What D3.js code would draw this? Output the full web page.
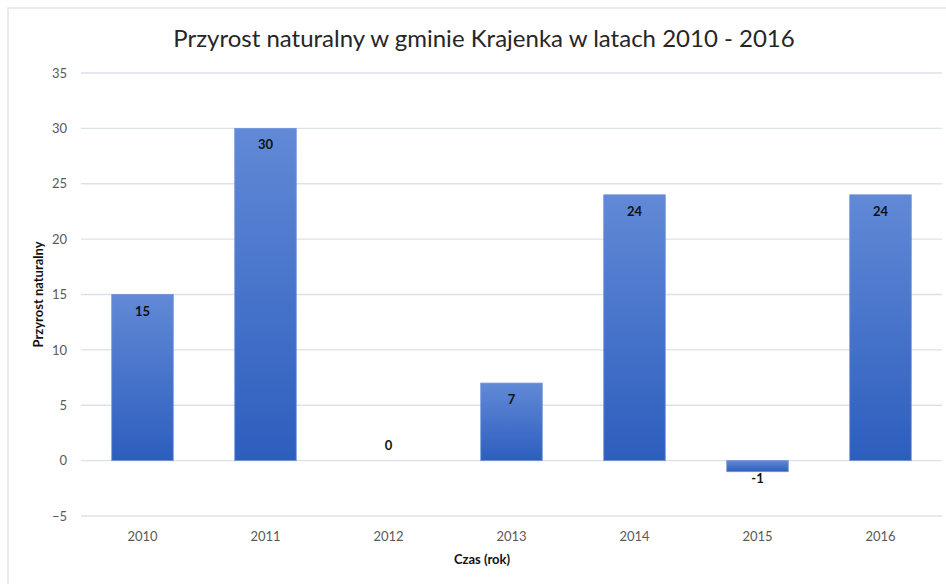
<!DOCTYPE html>
<html>
<head>
<meta charset="utf-8">
<script src="https://cdn.jsdelivr.net/npm/d3@7"></script>
<style>
  body { margin: 0; background: #fff; }
  svg text { font-family: Lato, "Open Sans", sans-serif; }
</style>
</head>
<body>
<div id="chart"></div>
<script>
const years = ['2010', '2011', '2012', '2013', '2014', '2015', '2016']
const values = [15, 30, 0, 7, 24, -1, 24]
const yTicks = [-5, 0, 5, 10, 15, 20, 25, 30, 35]

const width = 946
const height = 584
const margin = {top: 73, right: 4, bottom: 68, left: 81}

const svg = d3.select('#chart').append('svg')
  .attr('width', width)
  .attr('height', height)

const defs = svg.append('defs')
const grad = defs.append('linearGradient')
  .attr('id', 'barGrad')
  .attr('x1', 0).attr('y1', 0).attr('x2', 0).attr('y2', 1)
grad.append('stop').attr('offset', '0%').attr('stop-color', '#6189d6')
grad.append('stop').attr('offset', '100%').attr('stop-color', '#2d5ebe')

// outer border of the chart area
svg.append('path')
  .attr('d', `M8,${height} L8,8 L${width},8`)
  .attr('fill', 'none')
  .attr('stroke', '#e4e4e4')
  .attr('stroke-width', 1.5)

const x = d3.scaleBand()
  .domain(years)
  .range([margin.left, width - margin.right])
  .paddingInner(0.5)
  .paddingOuter(0.25)

const y = d3.scaleLinear()
  .domain([-5, 35])
  .range([height - margin.bottom, margin.top])

// gridlines
svg.append('g')
  .selectAll('line').data(yTicks)
  .enter().append('line')
    .attr('x1', margin.left)
    .attr('x2', width - margin.right)
    .attr('y1', (d) => y(d))
    .attr('y2', (d) => y(d))
    .attr('stroke', '#dbe1ea')
    .attr('stroke-width', 1.3)

// y tick labels
svg.append('g')
  .call(d3.axisLeft(y).tickValues(yTicks).tickSize(0).tickPadding(0))
  .attr('transform', `translate(${margin.left - 14},0)`)
  .call((g) => g.select('.domain').remove())
  .selectAll('text')
    .attr('font-size', 13)
    .attr('fill', '#595959')
    .attr('font-family', 'Lato, sans-serif')

// x tick labels
svg.append('g')
  .attr('transform', `translate(0,${y(-5) + 16})`)
  .call(d3.axisBottom(x).tickSize(0).tickPadding(0))
  .call((g) => g.select('.domain').remove())
  .selectAll('text')
    .attr('font-size', 13)
    .attr('fill', '#595959')
    .attr('font-family', 'Lato, sans-serif')

// bars
svg.append('g')
  .selectAll('rect').data(values)
  .enter().append('rect')
    .attr('x', (d, i) => x(years[i]))
    .attr('y', (d) => y(Math.max(0, d)))
    .attr('width', x.bandwidth())
    .attr('height', (d) => Math.abs(y(d) - y(0)))
    .attr('fill', 'url(#barGrad)')
    .attr('stroke', '#6f93d8')
    .attr('stroke-width', 0.8)

// data labels
svg.append('g')
  .selectAll('text').data(values)
  .enter().append('text')
    .text((d) => d)
    .attr('x', (d, i) => x(years[i]) + x.bandwidth() / 2)
    .attr('y', (d) => {
      if (d > 0) return y(d) + 21
      if (d === 0) return y(0) - 11
      return y(d) + 11
    })
    .attr('text-anchor', 'middle')
    .attr('font-size', 13)
    .attr('font-weight', 'bold')
    .attr('fill', '#111')

// title
svg.append('text')
  .text('Przyrost naturalny w gminie Krajenka w latach 2010 - 2016')
  .attr('x', 484)
  .attr('y', 47)
  .attr('text-anchor', 'middle')
  .attr('font-size', 24)
  .attr('fill', '#262626')

// axis titles
svg.append('text')
  .text('Czas (rok)')
  .attr('x', 482)
  .attr('y', 564)
  .attr('text-anchor', 'middle')
  .attr('font-size', 13)
  .attr('font-weight', 'bold')
  .attr('fill', '#111')

svg.append('text')
  .text('Przyrost naturalny')
  .attr('transform', `translate(43, ${y(15)}) rotate(-90)`)
  .attr('text-anchor', 'middle')
  .attr('font-size', 13)
  .attr('font-weight', 'bold')
  .attr('fill', '#111')
</script>
</body>
</html>
